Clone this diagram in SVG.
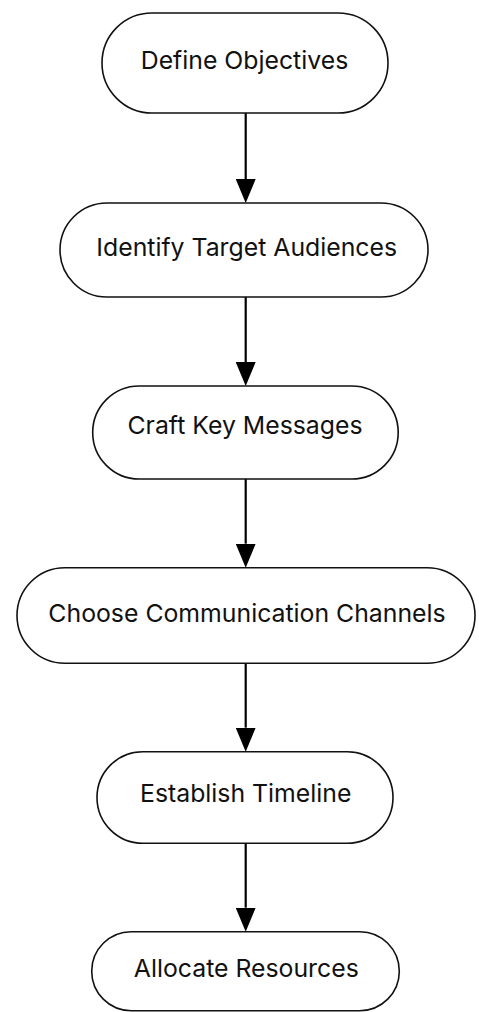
<svg xmlns="http://www.w3.org/2000/svg" width="479" height="1012" viewBox="0 0 479 1012">
<style>
.node rect{fill:#ffffff;stroke:#111111;stroke-width:1.6}
.node text{font-family:Inter,"Noto Sans","Liberation Sans",sans-serif;font-size:24.8px;fill:#111111;text-anchor:middle}
.edge{stroke:#000000;stroke-width:2.2;fill:none}
</style>
<defs>
<marker id="arrow" markerUnits="userSpaceOnUse" viewBox="0 0 24 20" refX="0" refY="10" markerWidth="24" markerHeight="20" orient="auto">
<path d="M0,0 L24,10 L0,20 z" fill="#000000"/>
</marker>
</defs>
<rect width="479" height="1012" fill="#ffffff"/>
<g id="connectors">
<line class="edge" x1="245.7" y1="113" x2="245.7" y2="179" marker-end="url(#arrow)"/>
<line class="edge" x1="245.7" y1="297" x2="245.7" y2="362" marker-end="url(#arrow)"/>
<line class="edge" x1="245.7" y1="479" x2="245.7" y2="543.7" marker-end="url(#arrow)"/>
<line class="edge" x1="245.7" y1="663" x2="245.7" y2="727.7" marker-end="url(#arrow)"/>
<line class="edge" x1="245.7" y1="843" x2="245.7" y2="907.7" marker-end="url(#arrow)"/>
</g>
<g id="node1" class="node">
<rect x="102" y="13" width="286" height="100" rx="50" ry="50"/>
<text x="244.5" y="69.3">Define Objectives</text>
</g>
<g id="node2" class="node">
<rect x="60" y="203" width="368" height="94" rx="47" ry="47"/>
<text x="246.7" y="256">Identify Target Audiences</text>
</g>
<g id="node3" class="node">
<rect x="92.7" y="386" width="305.5" height="93" rx="46.5" ry="46.5"/>
<text x="245" y="434">Craft Key Messages</text>
</g>
<g id="node4" class="node">
<rect x="17" y="567.7" width="458" height="95.6" rx="47.8" ry="47.8"/>
<text x="247" y="621.7">Choose Communication Channels</text>
</g>
<g id="node5" class="node">
<rect x="97" y="751.7" width="296" height="91.6" rx="45.8" ry="45.8"/>
<text x="245.7" y="801.7">Establish Timeline</text>
</g>
<g id="node6" class="node">
<rect x="91.7" y="931.7" width="307.6" height="79" rx="39.5" ry="39.5"/>
<text x="246.3" y="976.7">Allocate Resources</text>
</g>
</svg>
